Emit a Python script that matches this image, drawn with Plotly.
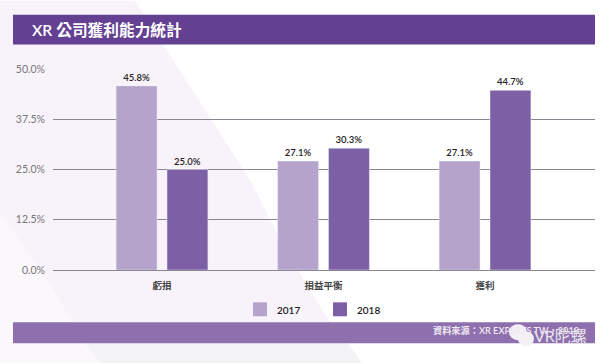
import plotly.graph_objects as go

categories = ["虧損", "損益平衡", "獲利"]
series_names = ["2017", "2018"]
values_2017 = [45.8, 27.1, 27.1]
values_2018 = [25.0, 30.3, 44.7]
labels_2017 = ["45.8%", "27.1%", "27.1%"]
labels_2018 = ["25.0%", "30.3%", "44.7%"]
tick_values = [0, 12.5, 25, 37.5, 50]
tick_labels = ["0.0%", "12.5%", "25.0%", "37.5%", "50.0%"]

W, H = 609, 364
L, R, T, B = 53, 595, 68.5, 270.5
FONT = "Lato, 'Noto Sans CJK TC', sans-serif"
C17, C18 = "#b5a3cb", "#7d5fa6"

def px(x):
    return (x - L) / (R - L)

def py(y):
    return (B - y) / (B - T)

def path(points):
    return "M " + " L ".join(f"{px(x):.4f},{py(y):.4f}" for x, y in points) + " Z"

def shape_path(points, color):
    return dict(type="path", xref="paper", yref="paper", path=path(points),
                fillcolor=color, line=dict(width=0), layer="below")

def rect(x0, y0, x1, y1, color, layer="below"):
    return dict(type="rect", xref="paper", yref="paper", x0=px(x0), x1=px(x1),
                y0=py(y0), y1=py(y1), fillcolor=color, line=dict(width=0), layer=layer)

def ellipse(x0, y0, x1, y1, color):
    return dict(type="circle", xref="paper", yref="paper", x0=px(x0), x1=px(x1),
                y0=py(y0), y1=py(y1), fillcolor=color, line=dict(width=0), layer="above")

fig = go.Figure()
fig.add_bar(name=series_names[0], x=categories, y=values_2017, marker_color=C17,
            text=labels_2017, textposition="outside", cliponaxis=False, showlegend=False)
fig.add_bar(name=series_names[1], x=categories, y=values_2018, marker_color=C18,
            text=labels_2018, textposition="outside", cliponaxis=False, showlegend=False)

shapes = [
    shape_path([(0, 0), (135, 0), (250, 180), (285, 250), (330, 323), (0, 323)], "#f8f2fa"),
    shape_path([(0, 213), (52, 288), (85, 344), (100, 364), (0, 364)], "#fbf8fc"),
    shape_path([(85, 344), (348, 344), (362, 364), (100, 364)], "#f3f3f5"),
    rect(13, 14, 595, 44, "#644092"),
    rect(13, 323, 595, 344, "#8f70ae"),
    rect(253, 303, 267, 317, C17),
    rect(333, 303, 347, 317, C18),
    ellipse(509, 325, 527, 341, "#f4f1f6"),
    ellipse(518, 332, 534, 347, "#f4f1f6"),
]

def note(text, x, y, anchor, size, color, weight=400):
    return dict(text=text, xref="paper", yref="paper", x=px(x), y=py(y), xanchor=anchor,
                yanchor="middle", showarrow=False,
                font=dict(family=FONT, size=size, color=color, weight=weight))

annotations = [
    note("XR 公司獲利能力統計", 30, 29, "left", 15.7, "white", 600),
    note("資料來源：XR EXPERTS TW，2018", 581, 331, "right", 9.2, "#efe9f4", 600),
    note("VR陀螺", 589, 336, "right", 16, "#e8e4ec"),
    note(series_names[0], 275, 311, "left", 10, "#222222", 600),
    note(series_names[1], 355, 311, "left", 10, "#222222", 600),
]

fig.update_layout(
    width=W, height=H, autosize=False,
    margin=dict(l=L, r=W - R, t=T, b=H - B, pad=0),
    paper_bgcolor="white", plot_bgcolor="rgba(0,0,0,0)",
    barmode="group", bargap=0.37, bargroupgap=0.196,
    font=dict(family=FONT, size=10, color="#222222"),
    shapes=shapes, annotations=annotations, showlegend=False,
)
fig.update_traces(textfont=dict(size=9.5, color="#222222", family=FONT, weight=600))
fig.update_xaxes(range=[-0.675, 2.681], tickfont=dict(size=9.5, color="#444444", weight=600),
                 showgrid=False, showline=False, ticks="", zeroline=False, ticklabelstandoff=8)
fig.update_yaxes(range=[0, 50], tickvals=tick_values, ticktext=tick_labels,
                 tickfont=dict(size=10.5, color="#777777"), gridcolor="#8a8590", gridwidth=1,
                 zeroline=True, zerolinecolor="#8a8590", zerolinewidth=1, showline=False,
                 ticklabelstandoff=7)

fig.write_html("out.html", config=dict(displayModeBar=False),
               post_script="document.body.style.margin='0';document.body.style.overflow='hidden';")
